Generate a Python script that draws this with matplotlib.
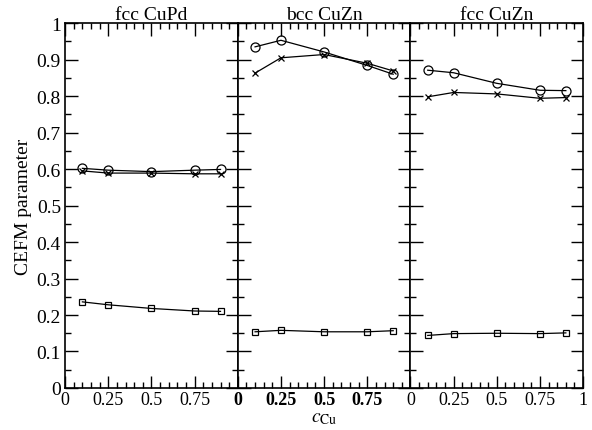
import numpy as np
import matplotlib
matplotlib.use('Agg')
import matplotlib.pyplot as plt
from matplotlib.ticker import MultipleLocator, FuncFormatter

plt.rcParams['font.family'] = ['Liberation Serif', 'DejaVu Serif']
plt.rcParams['mathtext.fontset'] = 'stix'
plt.rcParams['font.size'] = 13

conc = [0.1, 0.25, 0.5, 0.75, 0.9]
titles = ['fcc CuPd', 'bcc CuZn', 'fcc CuZn']

# open circles, crosses, open squares per panel
circles = [
    [0.602, 0.597, 0.593, 0.597, 0.599],
    [0.935, 0.953, 0.921, 0.884, 0.860],
    [0.871, 0.864, 0.835, 0.816, 0.815],
]
crosses = [
    [0.595, 0.589, 0.589, 0.587, 0.587],
    [0.863, 0.905, 0.914, 0.890, 0.869],
    [0.798, 0.810, 0.806, 0.794, 0.796],
]
squares = [
    [0.236, 0.228, 0.218, 0.211, 0.210],
    [0.154, 0.158, 0.154, 0.154, 0.157],
    [0.144, 0.149, 0.150, 0.149, 0.151],
]

fig, axes = plt.subplots(1, 3, sharey=True, figsize=(5.92, 4.31), dpi=100)
fig.subplots_adjust(left=0.11, right=0.985, top=0.944, bottom=0.0975, wspace=0)

def fmt(v, pos):
    return ('%.2f' % v).rstrip('0').rstrip('.')

for i, ax in enumerate(axes):
    ax.plot(conc, circles[i], 'k-', marker='o', mfc='none', ms=6.5, lw=0.9, mew=0.9)
    ax.plot(conc, crosses[i], 'k-', marker='x', ms=4, lw=0.9, mew=0.9)
    ax.plot(conc, squares[i], 'k-', marker='s', mfc='none', ms=5, lw=0.9, mew=0.9)
    ax.set_title(titles[i], pad=3, fontsize=14)
    ax.set_xlim(0, 1)
    ax.set_ylim(0, 1)
    ax.xaxis.set_major_locator(MultipleLocator(0.25))
    ax.xaxis.set_minor_locator(MultipleLocator(0.05))
    ax.yaxis.set_major_locator(MultipleLocator(0.1))
    ax.yaxis.set_minor_locator(MultipleLocator(0.05))
    ax.xaxis.set_major_formatter(FuncFormatter(fmt))
    ax.yaxis.set_major_formatter(FuncFormatter(fmt))
    ax.tick_params(which='both', direction='in', top=True, right=True, width=1)
    ax.tick_params(which='major', length=9)
    ax.tick_params(which='minor', length=4.5)
    ax.tick_params(axis='x', labelsize=13, pad=2)
    ax.tick_params(axis='y', labelsize=14, pad=3)
    for sp in ax.spines.values():
        sp.set_linewidth(1.2)
    if i < 2:
        ax.set_xticks([0, 0.25, 0.5, 0.75])
    else:
        ax.set_xticks([0, 0.25, 0.5, 0.75, 1])
    if i == 1:
        for lab in ax.get_xticklabels():
            lab.set_fontweight('bold')

axes[0].set_ylabel('CEFM parameter', fontsize=14, labelpad=3)
axes[1].set_xlabel(r'$c_{\rm Cu}$', fontsize=14, labelpad=1)

fig.savefig('out.png', dpi=100)
